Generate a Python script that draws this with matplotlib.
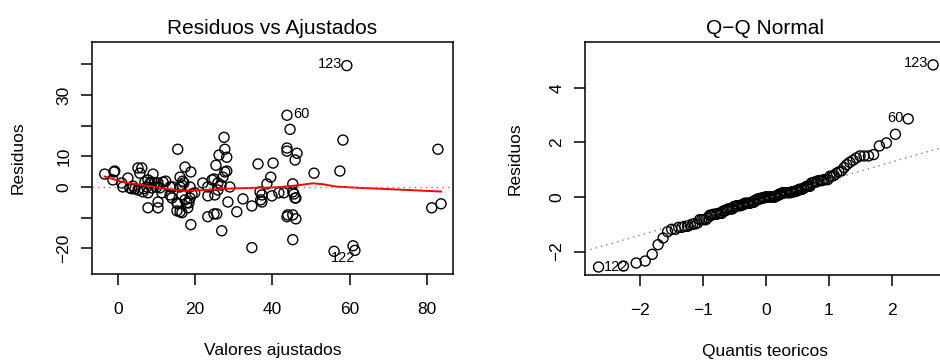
import numpy as np
import matplotlib
matplotlib.use("Agg")
import matplotlib.pyplot as plt
from statistics import NormalDist

plt.rcParams['font.family'] = ['Liberation Sans', 'DejaVu Sans']

# ---------------- data ----------------
fitted = [-3.4, -1.0, -0.8, -1.3, 1.0, 2.6, 1.3, 3.1, 3.6, 4.4, 5.2, 3.9, 5.2, 6.2, 5.7,
          7.0, 7.8, 8.3, 8.8, 9.6, 10.1, 6.5, 7.5, 8.8, 9.1, 10.4, 10.9, 11.4, 7.8, 10.4,
          10.4, 12.4, 7.8, 6.7, 11.7, 15.5, 17.4, 18.9, 16.1, 16.8, 17.1, 14.2, 13.5, 14.0,
          16.1, 16.6, 15.3, 15.5, 16.1, 15.3, 17.4, 17.9, 18.1, 18.4, 18.7, 19.2, 18.9, 16.6,
          22.0, 23.3, 23.3, 24.9, 25.4, 26.2, 27.5, 27.7, 28.2, 27.7, 28.2, 27.2, 25.1, 29.0,
          28.5, 23.3, 24.9, 25.6, 26.9, 13.5, 16.6, 18.7, 24.4, 25.9, 26.7, 25.9, 19.9, 30.8,
          32.4, 34.7, 34.7, 36.3, 37.0, 37.3, 38.6, 40.2, 36.8, 37.3, 39.6, 39.9, 41.7, 43.0,
          43.8, 44.6, 43.8, 43.8, 46.4, 45.9, 45.3, 45.3, 45.6, 45.9, 46.1, 43.8, 44.0, 45.3,
          46.1, 45.3, 50.8, 57.5, 58.3, 59.3, 56.0, 60.9, 61.4, 82.9, 81.3, 83.7]
residuals = [4.2, 4.9, 5.2, 2.3, 1.3, 2.9, 0.0, -0.3, -0.6, -0.6, -1.0, 0.3, 6.2, 6.2, 4.5,
             1.6, 2.3, 1.3, 1.6, 1.3, 0.0, -1.6, 0.0, -0.3, 4.2, 1.3, -0.3, -1.9, -6.8, -4.9,
             -6.8, 1.9, -1.9, -0.6, 1.6, 12.3, 6.5, 4.9, 3.2, 1.9, 1.3, 0.0, -2.6, -3.6,
             0.0, 0.6, -5.2, -5.5, -8.1, -7.8, -4.2, -5.2, -6.8, -5.2, 0.0, -2.3, -12.3, -8.4,
             1.3, 0.0, -2.9, 2.6, 7.1, 10.4, 16.2, 12.3, 9.7, 4.9, 5.2, 3.2, -2.6, 0.0,
             -4.9, -9.7, -8.8, -8.8, -14.3, 0.0, -2.6, -3.6, 2.3, 1.3, 0.6, -1.0, -1.9, -8.1,
             -3.9, -19.8, -6.2, 7.5, -4.2, -4.9, 1.0, 7.8, -1.6, -2.6, 3.2, -2.9, -1.9, -1.9,
             23.4, 18.8, 12.7, 11.7, 11.0, 8.8, 1.0, -1.6, -2.3, -3.6, -3.6, -9.7, -9.1, -9.1,
             -10.4, -17.2, 4.5, 5.2, 15.3, 39.6, -21.0, -19.2, -20.7, 12.3, -6.8, -5.5]
resid_scale = 8.18          # residual standard error (standardised residual = residual / scale)
label_ids = [123, 60, 122]  # three largest |residuals|

smooth_x = [-3.4, 1.3, 7.0, 13.0, 17.4, 21.0, 25.9, 30.0, 34.7, 39.4, 43.3, 47.0,
            50.5, 53.0, 56.7, 62.7, 70.0, 77.0, 83.7]
smooth_y = [3.4, 1.6, 0.5, -0.7, -1.2, -1.1, -0.7, -0.5, -0.3, -0.2, 0.1, 0.6,
            1.2, 0.9, 0.1, -0.3, -0.7, -1.1, -1.5]

left_xticks = [0, 20, 40, 60, 80]
left_yticks = [-20, -10, 0, 10, 20, 30, 40]
left_yticklabels = ['\u221220', '', '0', '10', '', '30', '']
right_xticks = [-2, -1, 0, 1, 2]
right_yticks = [-2, 0, 2, 4]

# ---------------- figure ----------------
W, H = 940, 360
fig = plt.figure(figsize=(W / 100, H / 100), dpi=100)

def px_axes(x0, y0, x1, y1):
    return fig.add_axes([x0 / W, 1 - y1 / H, (x1 - x0) / W, (y1 - y0) / H])

ax1 = px_axes(92, 42, 453, 274)
ax2 = px_axes(585, 42, 946, 275)

fitted_a = np.array(fitted)
res_a = np.array(residuals)
order = np.argsort(-np.abs(res_a))[:3]

for ax in (ax1, ax2):
    for s in ax.spines.values():
        s.set_linewidth(1.1)
    ax.tick_params(direction='out', length=8, width=1.1, labelsize=12.5, colors='black')
    ax.tick_params(axis='x', pad=12)
    ax.tick_params(axis='y', pad=7)

mk = dict(s=52, facecolors='none', edgecolors='black', linewidths=1.0)

# Left: residuals vs fitted
ax1.scatter(fitted_a, res_a, zorder=2, **mk)
ax1.plot(smooth_x, smooth_y, color='red', lw=1.4, zorder=3)
ax1.axhline(0, color='grey', ls=(0, (1, 3)), lw=1.0, zorder=4)
ax1.set_xlim(-6.7, 86.8)
ax1.set_ylim(-28.4, 47.3)
ax1.set_xticks(left_xticks)
ax1.set_yticks(left_yticks)
ax1.set_yticklabels(left_yticklabels, rotation=90, va='center')
ax1.set_title('Residuos vs Ajustados', fontsize=15, pad=6)
ax1.set_xlabel('Valores ajustados', fontsize=12.5, labelpad=19)
ax1.set_ylabel('Residuos', fontsize=12.5, labelpad=22)

left_offsets = [(-3.6, 1, 'right'), (4.3, 1, 'left'), (-2.2, -4.5, 'left')]
for k, i in enumerate(order):
    dx, dy, ha = left_offsets[k]
    ax1.annotate(str(label_ids[k]), (fitted_a[i], res_a[i]), xytext=(dx, dy),
                 textcoords='offset points', ha=ha, va='center', fontsize=10.5)

# Right: normal Q-Q
n = len(res_a)
std_res = res_a / resid_scale
ord_idx = np.argsort(std_res)
sample = std_res[ord_idx]
probs = (np.arange(1, n + 1) - 0.5) / n
theo = np.array([NormalDist().inv_cdf(p) for p in probs])
ax2.scatter(theo, sample, zorder=2, **mk)
q1, q3 = np.quantile(sample, [0.25, 0.75])
z1, z3 = NormalDist().inv_cdf(0.25), NormalDist().inv_cdf(0.75)
slope = (q3 - q1) / (z3 - z1)
inter = q1 - slope * z1
xl = np.array([-2.87, 2.86])
ax2.plot(xl, inter + slope * xl, color='grey', ls=(0, (1, 3)), lw=1.0, zorder=3)
ax2.set_xlim(-2.87, 2.86)
ax2.set_ylim(-2.86, 5.68)
ax2.set_xticks(right_xticks)
ax2.set_yticks(right_yticks)
ax2.set_yticklabels([f'{v}'.replace('-', '\u2212') for v in right_yticks], rotation=90, va='center')
ax2.set_xticklabels([f'{v}'.replace('-', '\u2212') for v in right_xticks])
ax2.set_title('Q\u2212Q Normal', fontsize=15, pad=6)
ax2.set_xlabel('Quantis teoricos', fontsize=12.5, labelpad=19)
ax2.set_ylabel('Residuos', fontsize=12.5, labelpad=19)

rank = {int(j): r for r, j in enumerate(ord_idx)}
for k, i in enumerate(order):
    r = rank[int(i)]
    if theo[r] < 0:
        ax2.annotate(str(label_ids[k]), (theo[r], sample[r]), xytext=(3.6, 0),
                     textcoords='offset points', ha='left', va='center', fontsize=10.5)
    else:
        ax2.annotate(str(label_ids[k]), (theo[r], sample[r]), xytext=(-3.6, 1),
                     textcoords='offset points', ha='right', va='center', fontsize=10.5)

fig.savefig('out.png', dpi=100)
